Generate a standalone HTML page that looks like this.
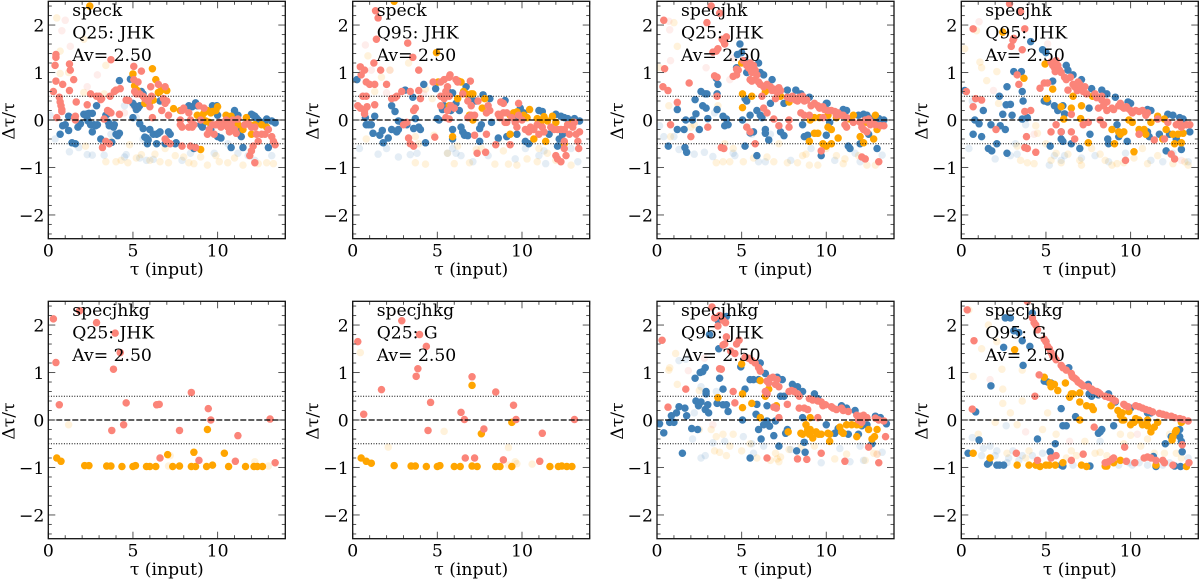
<!DOCTYPE html>
<html>
<head>
<meta charset="utf-8">
<title>Delta tau over tau panels</title>
<style>
html,body{margin:0;padding:0;background:#fff;}
svg{display:block;}
text{font-family:"DejaVu Serif","Liberation Serif",serif;fill:#000;}
</style>
</head>
<body>
<svg id="figure" width="1200" height="579" viewBox="0 0 1200 579" xmlns="http://www.w3.org/2000/svg"></svg>
<script>
const xTickMajor = [0, 5, 10];
const xTickMinor = [1, 2, 3, 4, 6, 7, 8, 9, 11, 12, 13, 14];
const yTickMajor = [-2, -1, 0, 1, 2];
const yTickMinor = [-2.4,-2.2,-1.8,-1.6,-1.4,-1.2,-0.8,-0.6,-0.4,-0.2,0.2,0.4,0.6,0.8,1.2,1.4,1.6,1.8,2.2,2.4];
const refDashed = [0];
const refDotted = [0.5, -0.5];
const xDomain = [0, 14];
const yDomain = [-2.5, 2.5];
const panelLabels = [
 ["speck","Q25: JHK","Av= 2.50"],["speck","Q95: JHK","Av= 2.50"],["specjhk","Q25: JHK","Av= 2.50"],["specjhk","Q95: JHK","Av= 2.50"],
 ["specjhkg","Q25: JHK","Av= 2.50"],["specjhkg","Q25: G","Av= 2.50"],["specjhkg","Q95: JHK","Av= 2.50"],["specjhkg","Q95: G","Av= 2.50"]];

const p1Blue = [[0.7,-0.3],[1.2,0.08],[1.2,-0.22],[0.85,-0.12],[1,-0.1],[1.4,-0.48],[1.6,-0.5],[1.75,-0.15],[1.9,-0.08],[2.1,0.12],[2.3,0.13],[2.4,0.14],[2.6,0.14],[2.3,0.02],[2.35,-0.02],[2.5,-0.1],[2.6,-0.25],[2.7,-0.1],[2.8,-0.12],[2.85,0.3],[2.9,-0.1],[3.1,-0.4],[3.4,0.1],[3.5,0.13],[3.55,-0.05],[3.6,-0.12],[3.75,-0.47],[3.85,-0.15],[3.9,-0.1],[4,-0.3],[4.1,-0.33],[4.2,-0.28],[4.2,0.83],[4.85,0.86],[5,0.05],[5,0.35],[5.1,0.3],[5.2,0.22],[5.3,0.25],[5.4,0.3],[5.5,0.6],[5.6,0.55],[5.4,-0.08],[5.6,-0.18],[5.7,-0.36],[5.8,-0.38],[5.85,-0.5],[5.9,-0.42],[6,-0.2],[6.2,-0.3],[6.4,-0.3],[6.5,-0.28],[6.6,-0.25],[6.4,-0.5],[6.6,0.4],[6.9,-0.5],[7.1,-0.25],[7.2,-0.3],[7.5,-0.5],[7.55,-0.48],[8.3,0.3],[8.5,0.28],[8.7,0.36],[8.8,0.3],[8.6,-0.6],[9,-0.1],[9.1,-0.15],[9.2,-0.05],[9.6,-0.2],[9.7,0.3],[9.95,0.3],[10,0.1],[10,-0.35],[10.2,-0.38],[10.8,-0.58],[11,0.2],[11.2,0.1],[11.3,-0.2],[11.4,-0.35],[11.5,-0.58],[12,0.12],[12.1,0.1],[12.2,0.08],[12.3,0.04],[12.4,0],[12.6,-0.05],[12.8,-0.1],[12.9,0.02],[13,-0.58],[13.2,-0.02],[13.4,-0.06]];
const p1Orange = [[2.45,2.4],[5,0.97],[5.1,0.72],[5.25,0.62],[6.15,1.08],[6.35,0.85],[6.5,0.58],[6.6,0.6],[6.8,0.65],[7,0.62],[6,0.38],[5.7,0.35],[6.2,0.42],[7.4,0.24],[7.8,0.2],[9,-0.62],[8.8,0.1],[9.1,0.1],[9.2,0.15],[9.4,0.2],[9.6,0.15],[9.7,0.18],[9.9,0.2],[10,0.28],[9.5,-0.05],[9.3,-0.02],[10.5,0.1],[10.8,0.08],[11,0],[11.2,-0.1],[11.5,-0.2],[11.7,0.05],[12,-0.3],[12.2,-0.1],[12.6,-0.1],[12.9,-0.15],[11.9,-0.1]];
const p1Salmon = [[0.3,0.6],[0.4,1.15],[0.45,1.38],[0.45,1.32],[0.45,0.82],[0.5,0.05],[0.65,0.48],[0.7,0.38],[0.75,0.3],[0.8,0.22],[0.85,0.75],[0.8,0.18],[1.25,1.18],[1.3,1.05],[1.25,0.62],[1.5,0.85],[1.55,0.05],[1.6,0.08],[1.65,0.38],[1.6,0],[2.3,0.32],[2.5,0.55],[2.85,0.5],[3,0.5],[3.15,0.45],[3.1,0.43],[3.3,0.02],[3.5,0.2],[3.6,0.18],[3.7,0.15],[3.2,-0.58],[3.4,-0.45],[3.6,-0.5],[3.7,1.27],[3.65,0.5],[3.9,0.6],[4,0.63],[4.25,0.66],[4.2,0.12],[4.6,0.42],[4.75,0.41],[5.05,1.13],[5.05,0.85],[5.5,1.03],[5.1,0.6],[5.2,0.55],[5.3,0.8],[5.4,0.55],[5.6,0.5],[5.7,0.45],[5.9,0.4],[6.05,0.7],[6.1,0.5],[6,0.28],[6.15,0.05],[6.5,0.75],[6.9,0.7],[6.8,0.45],[6.9,0.35],[7,0.4],[6.7,0.2],[7.1,0.1],[6.9,-0.4],[7.2,-0.5],[7,-0.45],[7.9,-0.55],[7.9,0.2],[8,0.25],[7.8,0],[7.8,-0.1],[7.9,-0.15],[8.3,0.15],[8.4,0],[8.5,-0.15],[8.6,-0.1],[8.3,-0.15],[8.4,-0.55],[8.7,-0.58],[8.9,0.3],[9.2,0.25],[9,0],[9.4,-0.3],[9.5,-0.2],[9.7,-0.1],[9.8,-0.3],[9.9,-0.1],[10.1,-0.05],[10.2,-0.15],[10.4,-0.1],[10.5,0],[10.6,-0.15],[10.7,-0.25],[10.8,-0.1],[10.9,0],[11,-0.2],[11.1,-0.28],[11.2,0.02],[11.6,-0.1],[11.8,-0.08],[12,-0.15],[12.2,-0.15],[12.3,-0.3],[12.4,-0.45],[12.1,-0.55],[12,-0.65],[11.9,-0.75],[12.2,-0.9],[12.6,-0.3],[12.8,-0.3],[13,-0.2],[13.2,-0.35],[13.3,-0.45],[13.4,-0.52]];
const p1FadeBlue = [[0.1,0.1],[0.4,-0.4],[1.25,-0.67],[1.8,-0.58],[2.3,-0.73],[2.6,-0.74],[3.3,-0.74],[3.7,-0.3],[4.5,-0.78],[4.6,-0.73],[5.4,-0.8],[5.6,-0.4],[5.8,-0.85],[6.2,-0.83],[7.9,-0.85],[8.4,-0.7],[9.8,-0.7],[11.2,-0.7],[11.8,-0.75],[12.2,-0.85],[13.2,-0.75],[5.2,0.05],[4.5,0.3],[10.6,-0.5]];
const p1FadeOrange = [[0.5,2.15],[0.7,1.45],[0.7,0.98],[1.2,1],[2.1,1.7],[2.1,0.58],[2.2,-0.55],[3.3,0.55],[3.4,1.15],[3.4,-0.88],[3.7,-0.45],[4,-0.88],[4.3,-0.85],[4.7,-0.9],[4.8,-0.52],[5.2,-0.8],[5.5,-0.73],[6,-0.85],[6.3,-0.72],[6.6,-0.88],[7.1,-0.9],[7.5,-0.75],[8,-0.78],[8.3,-0.9],[8.6,-0.92],[9,-0.78],[9.4,-0.95],[9.9,-0.75],[10.1,-0.88],[10.6,-0.9],[11,-0.8],[11.5,-0.95],[12.4,-0.92],[12.9,-0.9],[13.3,-0.92],[6.9,-0.6]];
const p1FadeSalmon = [[0.8,1.88],[1,2.1],[1.3,1.55],[2.3,0.7],[2.9,0.95],[5,0.3],[4.5,0.15]];

const p2Blue = [[0.25,0.85],[0.75,0.05],[0.8,-0.1],[0.95,-0.1],[1.1,-0.1],[1.2,-0.28],[1.3,0.08],[1.6,-0.32],[1.75,-0.22],[1.8,-0.48],[2.1,-0.38],[2.3,0.3],[2.3,-0.2],[2.5,0.18],[2.6,-0.25],[2.7,-0.02],[2.7,-0.2],[2.9,-0.05],[3.1,0.63],[3.2,-0.1],[3.55,0.48],[3.6,-0.18],[3.7,0.03],[3.9,-0.15],[4,-0.2],[4.2,0.75],[4.3,-0.48],[4.9,0.66],[5,0.03],[5.1,0],[5.3,0.22],[5.4,0.3],[5.7,0.58],[5.9,0.57],[5.8,0.2],[5.9,-0.2],[5.9,-0.4],[6.1,0.35],[6.3,0.2],[6.4,-0.15],[6.5,-0.25],[6.6,-0.3],[6.6,-0.32],[6.7,0.7],[6.8,-0.33],[7,0.45],[7.3,0.4],[7.5,-0.18],[7.6,-0.1],[7.5,-0.45],[7.7,0.53],[8.1,0.45],[8.2,-0.05],[8.6,-0.38],[9,0.41],[9.1,-0.35],[9.6,0],[9.7,-0.3],[9.9,0.25],[10.1,0.15],[10.2,-0.45],[10.4,-0.5],[11,0.2],[11.2,0.18],[11.6,-0.3],[12,0.12],[12.1,-0.55],[12.2,-0.4],[12.3,0.08],[12.4,-0.3],[12.5,0.05],[12.7,0.03],[13.1,0.03],[13.4,-0.02]];
const p2Orange = [[2.45,2.5],[4.95,1.42],[5.05,0.8],[5.9,-0.35],[5.7,0.3],[6.2,0.45],[6.25,0.82],[6.4,0.8],[6.55,0.6],[6.7,0.55],[7,0.55],[7.1,0.55],[6.9,0.1],[7.1,0],[7.65,0.25],[7.8,0.45],[9.3,0.1],[9.5,0.15],[9.6,0.15],[9.3,-0.3],[9.7,0.17],[10.1,0.1],[10.3,0.05],[10.45,0.22],[10.7,-0.4],[10.9,0.03],[11.1,-0.05],[11.3,0.07],[11.4,-0.45],[11.5,-0.02],[11.8,0.08],[12,-0.05],[12.5,-0.5],[12.7,-0.1],[13,-0.05]];
const p2Salmon = [[1.35,2.3],[1.5,2.15],[1.4,1.7],[1.25,1.2],[0.45,1.12],[0.5,0.95],[0.7,1.05],[0.8,0.8],[1,0.75],[1.3,0.75],[1.65,1.05],[2,0.75],[3.25,1.62],[3.55,1.32],[3.9,1.05],[3.4,0.6],[3.9,0.62],[2.9,0.6],[2.6,0.5],[2.3,0.45],[2.5,0.47],[4,0.45],[0.3,0.3],[0.45,0.25],[0.6,0.5],[0.8,0.5],[0.85,0.28],[0.7,0.2],[0.7,0.13],[1.3,0.32],[3.7,0.25],[3.6,0.2],[3,-0.1],[3.2,-0.05],[3.3,-0.38],[3.4,-0.5],[3.6,-0.55],[4.85,-0.36],[4.75,0.8],[5.2,0.8],[5.4,0.85],[5.7,0.9],[5.75,0.95],[6.1,0.85],[6.2,0.8],[6.95,0.82],[5.6,0.7],[5.5,0.6],[5.2,0.5],[5.4,0.45],[5.7,0.5],[5.2,0.3],[5.8,0.3],[5.5,0.05],[5.7,0.02],[5.6,0.2],[6,0.25],[6.5,0.55],[6.8,0.4],[7,0.3],[7,0.1],[7.2,0.1],[7.4,0.4],[6.8,0.05],[7.2,-0.32],[7.35,-0.7],[7.85,-0.68],[7.9,-0.3],[8,0.3],[8.1,0.2],[7.9,0.15],[8.45,-0.52],[8.75,0.38],[8.9,0.35],[8.6,0.12],[8.7,0.05],[8.9,0.15],[9.1,0.15],[9,-0.05],[9.3,-0.52],[9.1,-0.05],[9.4,0.05],[9.6,-0.05],[9.8,0.35],[9.8,0.1],[10,0],[9.7,-0.15],[10.2,-0.2],[10.4,-0.25],[10.5,-0.15],[10.7,-0.2],[10.9,-0.1],[11,-0.3],[11.2,-0.15],[11.3,-0.25],[11.7,-0.15],[11.9,-0.2],[12,-0.75],[12.1,-0.82],[12.3,-0.88],[12.5,-0.6],[12.6,-0.75],[12.5,-0.45],[12.1,-0.2],[12.3,-0.2],[12.5,-0.2],[12.7,-0.1],[13,-0.15],[13.2,-0.3],[13.3,-0.45],[13.35,-0.6],[13.4,-0.25],[12.8,-0.3],[13.1,-0.05]];
const p2FadeBlue = [[0.4,-0.6],[1.5,-0.72],[2,-0.6],[2.7,-0.78],[3.4,-0.73],[3.8,-0.7],[5.6,-0.7],[5.9,-0.6],[6.1,-0.7],[6.4,-0.75],[7.1,-0.88],[8,-0.75],[8.6,-0.4],[9.6,-0.82],[10.2,-0.6],[11,-0.75],[11.3,-0.65],[11.4,-0.92],[12.1,-0.55],[12.9,-0.6],[13.3,-0.88]];
const p2FadeOrange = [[0.9,1.35],[0.8,-0.4],[1.3,0.6],[1.7,0.9],[2.2,1.05],[3.3,1.2],[3.7,-0.35],[3.7,-0.9],[4.3,-0.93],[4.7,0.45],[4.8,-0.32],[5.6,-0.7],[6,-0.92],[6.2,-0.55],[6.9,-0.9],[7.3,-0.62],[7.6,-0.6],[8.4,-0.93],[8.6,-0.4],[8.9,-0.65],[9.2,-0.93],[9.7,-0.95],[10.3,-0.82],[10.9,-0.88],[11,-0.6],[11.5,-0.7],[12,-0.85],[12.9,-0.95],[4.3,0.65],[3.9,-0.5]];
const p2FadeSalmon = [[0.75,1.58],[1.1,1.05],[2.2,1.05],[2,0.57],[4.2,0.55]];

const p3Blue = [[0.67,-0.55],[1.2,-0.2],[1.2,0.22],[1.6,-0.2],[1.65,-0.58],[1.75,-0.68],[1.7,0],[2.1,0],[2.25,0.43],[2.3,0.13],[2.5,-0.2],[2.6,0.6],[2.7,0.3],[2.85,0.55],[2.9,0.25],[2.95,0.55],[3,0.03],[3.5,0.88],[3.6,0.75],[3.55,0.55],[3.55,0.22],[3.9,0.08],[4,-0.12],[4.1,0.02],[4.2,-0.1],[4.7,1.1],[4.75,1.38],[4.9,1.6],[5,1.42],[5.2,1.25],[5.3,1],[5.05,0],[5.2,0.45],[5.3,0.4],[5.2,-0.55],[5.5,0.1],[5.5,-0.27],[5.7,-0.25],[5.9,0.2],[6,1.2],[6.1,1],[6.1,0.1],[6.2,0.05],[6.3,0.95],[6.4,-0.2],[6.4,-0.28],[6.6,-0.42],[6.7,0.35],[6.8,0.85],[7.3,-0.25],[7.5,-0.33],[7.5,0.35],[7.7,0.63],[8.2,0.63],[8.5,0.55],[8.7,-0.35],[8.9,-0.32],[9,0.48],[8.6,-0.1],[9.7,-0.75],[10,0.35],[10.05,0.35],[10,-0.32],[10.2,-0.05],[11,0.22],[11.2,0.2],[11.3,-0.55],[11.4,-0.6],[11.9,0.1],[12,-0.5],[12.2,0.12],[12.4,0.1],[12.5,-0.3],[12.6,0.02],[12.9,0.05],[13,-0.6],[13.1,0.03],[13.4,0],[5.9,-0.75]];
const p3Orange = [[5,1.2],[5.05,0.55],[5.05,0.26],[5.6,0.5],[6.4,0.6],[7.3,0.5],[7.8,0.38],[9.05,0],[9,-0.45],[9.3,-0.28],[9.5,-0.28],[9.3,0.05],[9.6,0.05],[9.8,-0.5],[10,-0.55],[10.3,-0.5],[10.1,-0.15],[10.3,-0.2],[10.1,0.1],[10.6,0.05],[10.7,-0.38],[11.4,0.02],[11.6,0.1],[12,-0.35],[12.2,-0.48],[12.4,-0.05],[12.8,-0.4],[13,-0.2],[12.9,0.1]];
const p3Salmon = [[0.35,0.7],[0.4,2.1],[0.45,1.08],[0.65,0.62],[0.8,-0.1],[1.2,0.37],[1.9,0.78],[2,-0.35],[2.95,2.05],[3.2,2.4],[3.7,2.25],[3.85,1.7],[3.95,1.65],[4,1.6],[4.1,1.75],[3.3,1.43],[3.5,1.45],[3.6,1.5],[3.4,0.93],[3.55,0.9],[3.55,0.5],[3,-0.15],[3.8,-0.58],[3.95,-0.6],[4.5,0.92],[4.7,0.95],[4.7,1.07],[4.8,1.05],[5.1,1.25],[5.3,1.15],[5.4,1.1],[5.5,1.2],[5.55,1.05],[5.6,1],[5.7,1.15],[5.8,1.05],[5.9,0.95],[5.5,0.85],[5.6,0.82],[5.8,0.85],[6,0.8],[6.1,0.75],[6.3,0.7],[6.5,0.75],[6.7,0.7],[6.8,0.62],[6.9,0.65],[7.1,0.58],[7.2,0.68],[7.3,0.62],[7,0.45],[6.2,0.5],[6.3,0.25],[6.5,0.15],[6.9,0.02],[7.2,-0.12],[7.8,-0.15],[7.8,0],[5.8,-0.5],[5.3,-0.15],[5.5,-0.25],[7.7,0.48],[7.9,0.45],[8,0.5],[8.2,0.42],[8.4,0.48],[8.6,0.5],[8.3,0.4],[8.7,0.4],[8.85,0.42],[8.5,0.15],[8.7,0.1],[9,0.1],[9.1,0.3],[9.3,0.35],[9.5,0.3],[9.6,0.25],[9.8,0.28],[9.9,0.22],[9.8,0.05],[10.1,0.2],[10.3,0.2],[10.5,0.18],[10.6,0.1],[10.7,0.15],[10.9,0.1],[11,0.1],[11.2,0.05],[11.1,-0.1],[11.2,-0.15],[11.6,-0.05],[12,-0.05],[12.1,-0.15],[12.2,-0.2],[12.3,0],[12.5,0.02],[12.6,-0.1],[12.4,-0.25],[12.7,-0.05],[12.9,-0.1],[13.2,-0.12],[13.4,-0.12],[9.7,-0.65],[12.1,-0.78],[12.3,-0.82],[13.1,-0.88]];
const p3FadeBlue = [[0.15,-0.12],[0.4,-0.35],[1.3,-0.62],[2.2,-0.72],[2.8,-0.68],[3.3,-0.77],[4.5,-0.7],[4.6,-0.75],[5.6,-0.3],[6,-0.88],[6.4,-0.88],[6.7,-0.3],[7.9,-0.85],[9.1,-0.6],[10.5,-0.85],[11.7,-0.7],[12,-0.88],[13.3,-0.74],[1,-0.35],[3.4,0.15]];
const p3FadeOrange = [[0.15,1.1],[1,2.05],[1.2,1.55],[0.7,0.3],[0.8,-0.35],[2,-0.15],[2.2,-0.1],[3.6,0.3],[3.5,-0.9],[3.9,-0.88],[4,-0.5],[4.3,-0.88],[4.5,-0.6],[5.1,-0.88],[5.7,-0.8],[6.5,-0.78],[6.9,-0.88],[7.2,-0.5],[7.7,-0.9],[8.3,-0.9],[8.6,-0.75],[8.8,-0.72],[9,-0.95],[9.5,-0.95],[10,-0.6],[10.6,-0.75],[11,-0.92],[11.1,-0.82],[11.9,-0.75],[12.4,-0.95],[12.9,-0.95]];
const p3FadeSalmon = [[0.7,2.08],[0.75,1.9],[0.8,1.25],[2.9,1.1],[4.3,0.85],[4.5,1.3]];

const p4Blue = [[0.2,0.62],[0.7,-0.3],[0.8,0],[1.05,-0.08],[1.2,-0.35],[1.3,0.2],[1.6,-0.6],[1.75,-0.1],[1.8,-0.65],[2.1,-0.5],[2.25,0.5],[2.3,-0.12],[2.45,0.12],[2.6,-0.2],[2.65,0.32],[2.7,0.7],[2.7,-0.7],[2.9,0.33],[3,0.1],[3.1,1.02],[3.55,1.02],[3.6,0.6],[3.65,0.4],[3.6,0.02],[3.9,0.05],[4.1,1.65],[4.8,1.48],[5,1.42],[4.9,0.4],[5.1,0.38],[5.25,-0.55],[5.4,0.82],[5.5,0.3],[5.7,0.2],[5.9,-0.25],[5.9,-0.4],[6,-0.45],[6.1,0.13],[6,0.3],[6.2,1.15],[6.3,1.05],[6.5,-0.5],[6.6,0.95],[7,-0.6],[7.1,0.85],[7.55,0.25],[7.7,0.66],[7.6,-0.3],[8.3,0.63],[8.6,0.55],[8.65,-0.4],[8.7,-0.5],[9.1,0.48],[9.2,-0.1],[9.3,-0.35],[9.8,-0.45],[9.85,0.38],[10,0.35],[11,0.22],[11.2,0.2],[11,-0.25],[11.1,-0.35],[11.7,-0.3],[12.1,-0.65],[12.2,0.12],[12.3,-0.3],[12.5,0.1],[12.7,-0.4],[12.9,0.05],[13,-0.62],[13.1,0.02],[13.5,-0.25]];
const p4Orange = [[2.45,1.85],[3.7,0.88],[4.95,1.18],[5.05,0.45],[5.4,0.65],[5.9,0.28],[6.05,0.02],[6.5,0.25],[6.6,0.5],[7.05,0.03],[7.1,0.3],[7.5,-0.48],[7.75,0.5],[8.9,-0.2],[9.05,-0.5],[9.3,-0.25],[9.4,-0.3],[9.6,-0.25],[9.9,0],[10.1,-0.05],[10.2,-0.67],[10.5,-0.2],[10.8,-0.2],[10.9,-0.3],[11.2,-0.05],[11.9,-0.4],[11.6,0.08],[12,0.02],[12.1,-0.2],[12.5,-0.3],[12.6,-0.5],[12.8,-0.3],[13,-0.48],[13.1,-0.28]];
const p4Salmon = [[0.3,0.6],[0.7,0.28],[0.7,1.92],[0.85,0.45],[1.2,0.42],[2.05,-0.2],[2.85,2.45],[3.5,2.28],[3.1,1.72],[2.95,1.55],[3.05,1.68],[3.6,1.48],[3.3,0.95],[3.4,0.75],[3.75,1.92],[3.75,0.18],[4.1,0.2],[3.85,-0.35],[3.75,-0.58],[3.9,-0.6],[4.4,-0.68],[4.65,0.67],[4.9,0.78],[5.1,0.78],[5.3,1.22],[5.4,1.15],[5.5,1.1],[5.55,1.02],[5.6,1.25],[5.7,1.15],[5.8,1.05],[5.9,1],[6.1,0.9],[6.2,0.85],[6.3,0.63],[6.45,0.9],[6.6,0.75],[6.7,0.7],[6.85,0.62],[6.9,0.8],[7,0.75],[7.1,0.65],[7.2,0.6],[7.3,0.7],[7.4,0.55],[6.5,0.12],[6.5,-0.25],[6.7,-0.4],[5.9,-0.25],[5.3,-0.25],[5.6,-0.1],[7.2,-0.1],[7.5,-0.05],[7.9,0.55],[8,0.47],[8.1,0.25],[8.3,0.5],[8.3,0.42],[8.4,0.3],[8.6,0.38],[8.6,0.2],[8.2,0],[8.4,-0.1],[8.9,0.25],[9,0.22],[9.3,0.3],[9.4,0.35],[9.5,0.28],[9.6,0.25],[9.7,-0.85],[9.75,0.28],[9.8,0.25],[10,0.2],[10.1,0.15],[10.3,0.2],[10.5,0.18],[10.7,0.2],[10.9,0.1],[11,0.15],[10.5,-0.3],[11.4,-0.42],[11.6,0.02],[12,-0.4],[12.2,-0.05],[12.4,-0.72],[12.6,-0.82],[12.7,-0.1],[12.9,-0.05],[13,-0.15],[13.3,-0.1],[13.5,-0.1]];
const p4FadeBlue = [[0.45,-0.6],[0.65,0.4],[2,-0.82],[3.2,-0.5],[3.3,-0.72],[3.8,-0.1],[5.5,-0.75],[5.9,-0.85],[6.1,-0.75],[7.1,-0.8],[7.9,-0.75],[8.7,-0.88],[9.7,-0.7],[11.2,-0.85],[11.9,-0.88],[12.5,-0.7],[13.4,-0.88],[5.2,-0.95],[2.9,-0.75]];
const p4FadeOrange = [[0.2,1.5],[0.9,1.88],[1.1,1.22],[1.2,1.1],[1.5,0.83],[2.1,1.02],[2.2,0.35],[3.3,-0.55],[3.5,-0.85],[3.9,-0.9],[4.3,-0.92],[4.4,-0.12],[4.5,-0.28],[5,-0.5],[5.3,-0.85],[5.6,-0.7],[5.9,-0.9],[6.3,-0.72],[7,-0.85],[7.1,-0.95],[7.7,-0.6],[8.2,-0.72],[8.5,-0.85],[8.9,-0.95],[9.2,-0.92],[9.6,-0.9],[10.2,-0.8],[10.7,-0.6],[11,-0.92],[11.6,-0.75],[12.5,-0.92],[13.2,-0.88],[13.4,-0.95]];
const p4FadeSalmon = [[1.05,2.07],[1.9,0.62],[4.3,-0.3],[5.1,1.6],[13,-0.85]];

const p5Blue = [];
const p5Orange = [[0.5,-0.8],[0.75,-0.87],[2.15,-0.96],[2.4,-0.96],[3.45,-0.97],[3.7,-0.97],[4.35,-0.98],[5,-0.98],[5.15,-0.96],[5.8,-0.98],[6,-0.98],[6.35,-0.98],[7.05,-0.73],[7.35,-0.98],[7.75,-0.97],[8.45,-0.98],[8.6,-0.68],[8.7,-0.98],[9.35,-0.98],[9.4,-0.2],[9.7,-0.95],[10.4,-0.7],[10.65,-0.98],[11.65,-0.98],[12.15,-0.98],[12.35,-0.98],[12.65,-0.98]];
const p5Salmon = [[0.3,2.13],[0.45,1.21],[0.65,0.32],[1.85,2.3],[2.85,2.05],[3.95,1.83],[3.85,1.07],[4.25,1.42],[3.75,-0.22],[4.45,-0.1],[4.6,0.36],[6.4,0.32],[6.55,0.33],[6.6,-0.8],[7.75,-0.22],[8.45,0.58],[8.9,-0.85],[9.45,0.24],[9.6,0],[11.2,-0.33],[11.05,-0.87],[13.1,0.02],[13.4,-0.9]];
const p5FadeBlue = [];
const p5FadeOrange = [[1.2,-0.1],[7.1,-0.97],[7.2,-0.75],[12.2,-0.88],[13,-0.97]];
const p5FadeSalmon = [];

const p6Blue = [];
const p6Orange = [[0.5,-0.8],[0.8,-0.87],[1.1,-0.91],[2.45,-0.96],[3.45,-0.97],[3.7,-0.97],[4.35,-0.98],[5,-0.98],[5.15,-0.96],[6,-0.98],[6.35,-0.98],[7.05,0.73],[7.05,-0.97],[7.35,-0.98],[7.6,-0.29],[8.45,-0.98],[8.7,-0.98],[9.4,-0.05],[9.4,-0.98],[11.65,-0.98],[12.15,-0.98],[12.35,-0.97],[12.65,-0.98],[12.95,-0.98]];
const p6Salmon = [[0.3,1.65],[0.65,0.12],[1.7,0.64],[2.9,2.09],[3.75,0.92],[3.85,1.08],[3.95,1.8],[4.35,1.55],[4.45,-0.22],[4.6,0.37],[6.4,0.16],[6.6,0.01],[6.65,-0.8],[7.05,0.91],[7.2,-0.8],[7.75,-0.19],[8.45,0.59],[8.9,-0.84],[9.5,0.31],[9.65,0.01],[11.05,-0.87],[11.2,-0.28],[13.1,0.01]];
const p6FadeBlue = [];
const p6FadeOrange = [[0.45,1.42],[2.1,-0.57],[5.4,-0.24],[9.2,-0.58],[9.2,-0.95],[9.7,-0.92],[9.6,-0.88],[10.6,-0.93]];
const p6FadeSalmon = [];

const p7Blue = [[0.15,-0.08],[0.4,-0.27],[0.75,-0.05],[0.85,0.09],[1,-0.05],[1.15,0.15],[1.3,0.28],[1.5,-0.7],[1.65,0.25],[1.75,0.09],[2.05,-0.18],[2.25,0.88],[2.3,0.4],[2.4,-0.2],[2.45,0.3],[2.55,1],[2.6,0.38],[2.7,1.02],[2.85,1.1],[2.9,0.6],[2.9,0.55],[2.85,0.22],[3,0.32],[3.05,0.15],[3.1,1.8],[3.6,2.1],[3.65,1.5],[3.55,0.35],[3.7,0.88],[3.9,0.65],[3.9,0.32],[4.1,0.32],[4.2,0.18],[4.1,2.18],[4.95,1.12],[5.05,0],[5.2,0.65],[5.5,0.85],[5.7,0.85],[5.5,-0.8],[6,0.85],[5.9,0.33],[6,-0.2],[5.85,0.12],[6.1,0.05],[6.15,-0.4],[6.3,-0.1],[6.5,0.3],[6.5,-0.02],[6.65,-0.13],[6.9,-0.33],[7,-0.02],[7.1,0.9],[7.2,-0.55],[7.3,0.5],[7.4,0.85],[7.5,0.5],[7.6,-0.28],[7.7,-0.2],[8,0.75],[8.3,0.7],[8.25,-0.65],[8.6,0.6],[8.6,0.05],[8.7,-0.47],[8.75,-0.68],[9.3,0.55],[9.5,0.45],[10,-0.1],[10.5,-0.28],[10.7,-0.18],[10.9,0.3],[11.3,-0.3],[11.2,0.25],[11.7,0.2],[11.9,-0.3],[12.1,-0.12],[12.4,-0.1],[12.7,-0.5],[12.9,0.08],[13.2,0.05],[13.55,-0.08],[6.1,1.2],[6.4,0.98]];
const p7Orange = [[3.6,0.47],[5,1.18],[5.05,0.55],[5.05,0.26],[5.6,0.35],[6.1,0.83],[6.1,0.05],[6.4,0.5],[6.6,0.65],[7,0.27],[7.05,0.3],[7.75,-0.25],[8.5,-0.28],[8.6,-0.3],[8.8,-0.1],[8.9,-0.2],[9,-0.3],[9.05,-0.2],[9.05,0.05],[9.2,-0.38],[9.4,-0.25],[9.55,-0.3],[9.7,-0.3],[10.1,-0.28],[10.2,-0.45],[10.2,-0.3],[10.8,-0.15],[10.9,-0.25],[11,-0.28],[11.2,-0.1],[11.5,-0.1],[11.8,-0.1],[11.8,-0.35],[12,-0.1],[12.5,-0.2],[12.7,-0.4],[12.85,-0.35],[13,-0.2]];
const p7Salmon = [[0.3,1.68],[0.65,0.27],[1.7,0.65],[3.25,2.38],[3.4,2.15],[3.7,2.2],[3.9,2.1],[4.05,2.05],[3.6,1.98],[3.9,1.58],[4,1.6],[4.1,1.75],[4.35,1.45],[4.7,1.6],[4.85,1.68],[4.6,1.4],[3.7,1.08],[3.8,1.07],[4.5,0.6],[4.6,0.36],[5.2,1.32],[5.4,1.3],[5.6,1.25],[5.8,1.2],[6,1.1],[6.1,1.03],[6.5,0.82],[6.6,0.78],[6.7,0.88],[6.85,0.9],[7,0.75],[7.1,0.85],[7.2,0.7],[6.4,0.6],[6.5,0.55],[6.9,0.27],[7.05,0.25],[7.2,0.05],[6.5,-0.8],[7.7,0.33],[7.8,0.6],[7.95,0.62],[8.1,0.6],[8.3,0.55],[8.4,0.5],[8.4,0.25],[8.7,0.25],[8.9,0.22],[8.3,-0.82],[8.85,-0.83],[9.7,-0.7],[9,0.45],[9.2,0.42],[9.5,0.4],[9.7,0.38],[9.8,0.3],[9.95,0.32],[9.5,0.05],[10.3,0.28],[10.4,0.25],[10.6,0.22],[10.9,0.25],[11,0.2],[11.3,0.18],[11.1,-0.87],[11.8,0.1],[12,0.08],[12.2,0.1],[12.4,0.05],[12.5,-0.57],[12.9,0.04],[13.1,0],[13.1,-0.9],[13.4,-0.02],[13.5,-0.35],[11.9,0],[12.1,-0.05]];
const p7FadeBlue = [[1.3,1.25],[1.7,1.28],[2.1,-0.4],[2.2,0.15],[2.6,0.7],[2.6,-0.8],[2.85,-0.75],[3.3,-0.48],[3.5,0.6],[4,-0.45],[5.1,-0.35],[5.6,-0.5],[5.7,-0.7],[6.3,-0.55],[7.9,-0.62],[9.7,-0.9],[10.8,-0.6],[11.4,-0.88],[12,-0.55],[12.2,-0.85],[13.3,-0.68]];
const p7FadeOrange = [[0.7,1.05],[0.75,1.1],[1.1,1.4],[1.2,0.75],[2.5,0.62],[2.5,-0.2],[3.2,-0.2],[3.5,-0.35],[3.4,-0.65],[3.7,-0.68],[3.9,-0.3],[4.1,-0.75],[4.3,-0.55],[4.5,-0.3],[5,-0.65],[5.5,-0.5],[5.9,-0.8],[6.7,-0.85],[7,-0.7],[7.1,-0.82],[7.2,-0.88],[7.3,-0.78],[7.8,-0.62],[8.5,-0.58],[9.3,-0.55],[10.5,-0.82],[11.2,-0.72],[12.3,-0.85],[12.8,-0.7],[13,-0.72]];
const p7FadeSalmon = [[1.85,1.04],[2.8,1.3],[13,-0.72],[3.3,-0.1]];

const p8Blue = [[0.4,-0.7],[0.85,0.17],[1.05,-0.42],[1.55,-0.93],[1.65,-0.9],[1.75,0.72],[2.1,-0.95],[2.25,-0.95],[2.5,-0.95],[2.5,1.53],[2.6,2.15],[2.9,2.15],[3.1,1.88],[3.4,1.84],[3.6,1.67],[3.65,1.15],[4.05,1.55],[4.2,2.25],[4.5,-0.4],[5,1.65],[4.9,0.82],[5.1,0.8],[5.3,0.78],[5.25,-0.67],[5.55,-0.5],[6,-0.97],[5.9,-0.95],[5.9,0.24],[6,-0.12],[6.2,-0.12],[6.35,1.1],[6.75,0.07],[7.5,0.75],[7.55,0.55],[7.7,0.5],[7.6,-0.97],[8.1,-0.28],[8.2,-0.25],[8.1,0.53],[8.3,-0.2],[8.7,0.55],[9,-0.12],[9.1,0.38],[10,0.25],[11,0.15],[11.2,0.15],[11.35,-0.77],[11.5,-0.98],[12.05,-0.5],[12.4,-0.35],[12.6,-0.97],[12.9,-0.2],[12.9,-0.35],[13,-0.45],[13.05,-0.67],[12.95,-0.98]];
const p8Orange = [[0.7,-0.7],[1.7,-0.8],[3.15,1.48],[3.3,-0.95],[4,-0.95],[4.4,-0.95],[4.65,-0.98],[4.9,0.9],[5,-0.95],[5.2,-0.95],[5.25,0.78],[5.55,-0.95],[5.3,0.7],[5.7,0.62],[5.5,0.75],[6,-0.9],[6.15,0.78],[6.4,0.48],[6.5,0.55],[6.6,0.55],[7,0.57],[7,0.38],[7,0],[7.1,-0.95],[7.4,-0.98],[7.4,0.3],[7.7,0.28],[7.8,0.22],[8.5,-0.97],[8.6,-0.97],[8.85,0.3],[9,-0.9],[9.25,0.2],[9.4,0.1],[9.5,0.15],[9.4,-0.85],[9.5,0],[9.6,0],[9.9,0.18],[10,-0.1],[10.2,-0.05],[10.3,0.03],[10.5,0],[10.7,-0.1],[11,-0.12],[11,0],[11.2,-0.25],[11.4,-0.15],[11.5,-0.95],[11.6,-0.05],[12.45,-0.42],[12.65,-0.25],[12.7,-0.22],[13,-0.05],[13.3,-0.98],[12.5,-0.35]];
const p8Salmon = [[0.35,2.32],[0.75,1.67],[0.65,0.23],[3.9,2.5],[4.2,2.15],[4.3,2.05],[4.4,2],[4.5,1.9],[4.9,1.7],[5,1.65],[5.1,1.55],[5.2,1.5],[5.3,1.42],[5.4,1.35],[5.5,1.32],[5.6,1.27],[5.9,1.15],[6,1.1],[6.2,1.05],[6.5,0.98],[6.55,0.92],[6.6,0.9],[6.7,0.88],[6.8,0.85],[6.9,0.8],[7,0.78],[7.1,0.75],[7.2,0.72],[7.5,0.7],[7.7,0.65],[7.8,0.62],[8,0.6],[8.1,0.58],[8.2,0.55],[8.5,0.5],[8.7,0.48],[8.9,0.45],[9.1,0.4],[9.6,0.33],[9.7,0.3],[9.85,0.28],[10.3,0.3],[10.5,0.28],[10.7,0.25],[10.9,0.22],[11.1,0.2],[11.3,0.17],[11.7,0.14],[11.9,0.12],[12.1,0.1],[12.4,0.08],[12.6,0.05],[12.9,0.03],[13.1,0.01],[13.4,-0.02],[13.05,-0.52],[3.25,-0.7],[4.6,0.95],[4.35,0.5],[4.5,-0.85],[5.3,-0.8],[5.6,-0.75],[6.5,-0.85],[7.2,-0.72],[8.5,-0.9],[8.7,-0.88],[8.9,-0.83],[9,-0.8],[9.65,-0.57],[9.75,-0.87],[10.25,-0.9],[10.8,-0.8],[11,-0.78],[11.2,-0.8],[11.5,-0.85],[11.9,-0.85],[12,-0.9],[12.5,-0.95],[13.45,-0.9],[7.85,-0.15]];
const p8FadeBlue = [[0.65,-0.37],[1.2,-0.75],[1.3,-0.6],[1.7,-0.55],[2,-0.75],[2.1,-0.65],[2.7,-0.9],[2.8,-0.8],[3.05,-0.65],[3.4,-0.85],[3.6,-0.75],[4.2,-0.75],[4.8,-0.7],[6.6,-0.95],[8.2,-0.45],[9.3,-0.95],[9.9,-0.9],[10.1,-0.95],[10.5,-0.9],[11,-0.95],[11.9,-0.95],[12.3,-0.9],[13.4,-0.8],[2.65,-0.12]];
const p8FadeOrange = [[0.45,2.32],[1.6,2],[1.2,1.5],[2.1,1.65],[2.4,1.07],[0.7,0.92],[2.45,0.65],[2.45,0.35],[3.6,0.4],[3.6,1.05],[2.7,-0.7],[1,-0.3],[2,-0.05],[2.9,0.15],[3.3,-0.1],[3.8,-0.8],[4,-0.65],[5.1,0.15],[4.8,-0.2],[5.6,-0.3],[6.2,-0.8],[6.5,-0.65],[6.8,-0.75],[7.3,-0.45],[7.9,-0.7],[8.2,-0.68],[8.6,-0.75],[9.4,-0.3],[9.6,-0.5],[10,-0.32],[10.6,-0.55],[11,-0.4],[11.4,-0.7],[12,-0.7],[12.3,-0.3],[12.7,-0.7],[13,-0.8]];
const p8FadeSalmon = [[1.7,0.85],[3.8,-0.25],[6.4,-0.45],[10.4,-0.3]];

const panelBlue = [p1Blue,p2Blue,p3Blue,p4Blue,p5Blue,p6Blue,p7Blue,p8Blue];
const panelOrange = [p1Orange,p2Orange,p3Orange,p4Orange,p5Orange,p6Orange,p7Orange,p8Orange];
const panelSalmon = [p1Salmon,p2Salmon,p3Salmon,p4Salmon,p5Salmon,p6Salmon,p7Salmon,p8Salmon];
const panelFadeBlue = [p1FadeBlue,p2FadeBlue,p3FadeBlue,p4FadeBlue,p5FadeBlue,p6FadeBlue,p7FadeBlue,p8FadeBlue];
const panelFadeOrange = [p1FadeOrange,p2FadeOrange,p3FadeOrange,p4FadeOrange,p5FadeOrange,p6FadeOrange,p7FadeOrange,p8FadeOrange];
const panelFadeSalmon = [p1FadeSalmon,p2FadeSalmon,p3FadeSalmon,p4FadeSalmon,p5FadeSalmon,p6FadeSalmon,p7FadeSalmon,p8FadeSalmon];

const NS = "http://www.w3.org/2000/svg";
const svg = document.getElementById("figure");
const LEFTS = [48.3, 352.7, 657, 961.3];
const AXW = 237;
const TOPS = [1.3, 301.3];
const AXH = 237.4;
const FS = 17.2;
const R = 3.75;

function make(tag, parent, attrs) {
  const el = document.createElementNS(NS, tag);
  for (const k in attrs) el.setAttribute(k, attrs[k]);
  parent.appendChild(el);
  return el;
}

function drawPoints(g, pts, sx, sy, color, opacity, name) {
  pts.forEach(function (p) {
    const c = make("circle", g, {cx: sx(p[0]), cy: sy(p[1]), r: R, fill: color, "fill-opacity": opacity});
    
    
  });
}

for (let i = 0; i < 8; i++) {
  const left = LEFTS[i % 4];
  const top = TOPS[i < 4 ? 0 : 1];
  const sx = function (v) { return left + (v - xDomain[0]) / (xDomain[1] - xDomain[0]) * AXW; };
  const sy = function (v) { return top + AXH - (v - yDomain[0]) / (yDomain[1] - yDomain[0]) * AXH; };
  const bottom = top + AXH;
  const right = left + AXW;

  const g = make("g", svg, {});
  
  

  const clipId = "clip" + i;
  const cp = make("clipPath", g, {id: clipId});
  make("rect", cp, {x: left, y: top, width: AXW, height: AXH});
  const marks = make("g", g, {"clip-path": "url(#" + clipId + ")"});
  
  

  drawPoints(marks, panelFadeBlue[i], sx, sy, "#3f7fb5", 0.14, "faded-blue-point");
  drawPoints(marks, panelFadeOrange[i], sx, sy, "#ffa500", 0.14, "faded-orange-point");
  drawPoints(marks, panelFadeSalmon[i], sx, sy, "#fa8072", 0.14, "faded-salmon-point");
  drawPoints(marks, panelBlue[i], sx, sy, "#3f7fb5", 1, "blue-point");
  drawPoints(marks, panelOrange[i], sx, sy, "#ffa500", 1, "orange-point");
  drawPoints(marks, panelSalmon[i], sx, sy, "#fb8479", 1, "salmon-point");

  refDashed.forEach(function (v) {
    const l = make("line", g, {x1: left, x2: right, y1: sy(v), y2: sy(v), stroke: "#000", "stroke-width": 1.3, "stroke-dasharray": "6 2"});
    
    
  });
  refDotted.forEach(function (v) {
    const l = make("line", g, {x1: left, x2: right, y1: sy(v), y2: sy(v), stroke: "#000", "stroke-width": 1, "stroke-dasharray": "1 1.6"});
    
    
  });

  xTickMinor.forEach(function (v) {
    make("line", g, {x1: sx(v), x2: sx(v), y1: bottom, y2: bottom - 3.5, stroke: "#555", "stroke-width": 1});
    make("line", g, {x1: sx(v), x2: sx(v), y1: top, y2: top + 3.5, stroke: "#555", "stroke-width": 1});
  });
  yTickMinor.forEach(function (v) {
    make("line", g, {x1: left, x2: left + 3.5, y1: sy(v), y2: sy(v), stroke: "#555", "stroke-width": 1});
    make("line", g, {x1: right, x2: right - 3.5, y1: sy(v), y2: sy(v), stroke: "#555", "stroke-width": 1});
  });
  xTickMajor.forEach(function (v) {
    make("line", g, {x1: sx(v), x2: sx(v), y1: bottom, y2: bottom - 7, stroke: "#555", "stroke-width": 1});
    make("line", g, {x1: sx(v), x2: sx(v), y1: top, y2: top + 7, stroke: "#555", "stroke-width": 1});
    const t = make("text", g, {x: sx(v), y: bottom + 18, "text-anchor": "middle", "font-size": FS});
    
    
    t.textContent = String(v);
  });
  yTickMajor.forEach(function (v) {
    make("line", g, {x1: left, x2: left + 7, y1: sy(v), y2: sy(v), stroke: "#555", "stroke-width": 1});
    make("line", g, {x1: right, x2: right - 7, y1: sy(v), y2: sy(v), stroke: "#555", "stroke-width": 1});
    const t = make("text", g, {x: left - 4, y: sy(v) + 6.3, "text-anchor": "end", "font-size": FS});
    
    
    t.textContent = (v < 0 ? "\u2212" : "") + Math.abs(v);
  });

  const frame = make("rect", g, {x: left, y: top, width: AXW, height: AXH, fill: "none", stroke: "#111", "stroke-width": 1.3});
  
  

  const xl = make("text", g, {x: left + AXW / 2, y: bottom + 36.5, "text-anchor": "middle", "font-size": FS});
  
  
  xl.textContent = "\u03C4 (input)";

  const cy = top + AXH / 2 + 1;
  const yl = make("text", g, {x: left - 34, y: cy, "text-anchor": "middle", "font-size": FS, transform: "rotate(-90 " + (left - 34) + " " + cy + ")"});
  
  
  yl.textContent = "\u0394\u03C4/\u03C4";

  panelLabels[i].forEach(function (s, k) {
    const t = make("text", g, {x: left + 24, y: top + 14.7 + k * 22.5, "font-size": FS});
    
    
    t.textContent = s;
  });
}
</script>
</body>
</html>
